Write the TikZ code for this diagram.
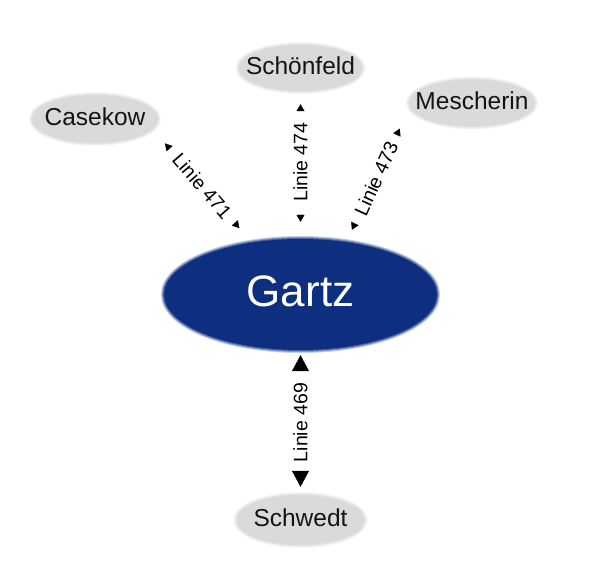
\documentclass[tikz,border=0pt]{standalone}
\usepackage{fontspec}
\setmainfont{Liberation Sans}
\usetikzlibrary{arrows.meta,shapes.geometric}
\definecolor{cityg}{RGB}{218,218,218}
\definecolor{gartzb}{RGB}{14,47,128}
\definecolor{ink}{RGB}{20,20,20}
\newcommand\ctext[1]{\makebox[0pt]{\smash{\raisebox{-0.28em}{#1}}}}
\begin{document}
\begin{tikzpicture}[x=1pt,y=-1pt,
  blob/.style={ellipse, inner sep=0pt, fill=#1,
    preaction={draw=#1, line width=6pt, draw opacity=.25},
    preaction={draw=#1, line width=4pt, draw opacity=.33},
    preaction={draw=#1, line width=2pt, draw opacity=.5}},
  city/.style={blob=cityg, text=ink, font=\fontsize{24.5}{29}\selectfont},
  hub/.style={blob=gartzb, text=white, font=\fontsize{44}{52}\selectfont},
  lbl/.style={inner sep=0pt, text=black, font=\fontsize{19.5}{23}\selectfont},
  conn/.style={draw=white, line width=.4pt},
  smalltips/.style={arrows={Triangle[width=8pt,length=7pt,color=black]-Triangle[width=8pt,length=7pt,color=black]}},
  bigtips/.style={arrows={Triangle[width=17pt,length=16pt,color=black]-Triangle[width=17pt,length=16pt,color=black]}}]
\useasboundingbox (0,0) rectangle (595,580);
\node[hub, minimum width=273pt, minimum height=111pt] (Gartz) at (300.5,294.5) {\ctext{Gartz}};
\node[city, minimum width=126pt, minimum height=48pt] (Casekow) at (95,119) {\ctext{Casekow}};
\node[city, minimum width=124pt, minimum height=46pt] (Schoenfeld) at (300.5,68) {\ctext{Schönfeld}};
\node[city, minimum width=126pt, minimum height=47pt] (Mescherin) at (472,103) {\ctext{Mescherin}};
\node[city, minimum width=128pt, minimum height=50pt] (Schwedt) at (300.5,520) {\ctext{Schwedt}};
\draw[conn, smalltips, shorten <=19pt, shorten >=19pt] (Casekow.-10.7) -- node[lbl, rotate=-49.3, pos=.5] (l471) {Linie 471} (Gartz.133.8);
\draw[conn, smalltips, shorten <=13pt, shorten >=17pt] (Schoenfeld.south) -- node[lbl, rotate=90, pos=.48] (l474) {Linie 474} (Gartz.north);
\draw[conn, smalltips, shorten <=23.5pt, shorten >=13.5pt] (Mescherin.-176.1) -- node[lbl, rotate=65.5, pos=.53] (l473) {Linie 473} (Gartz.49.1);
\draw[conn, bigtips, shorten <=5pt, shorten >=8pt] (Gartz.south) -- node[lbl, rotate=90, pos=.5] (l469) {Linie 469} (Schwedt.north);
\end{tikzpicture}
\end{document}
